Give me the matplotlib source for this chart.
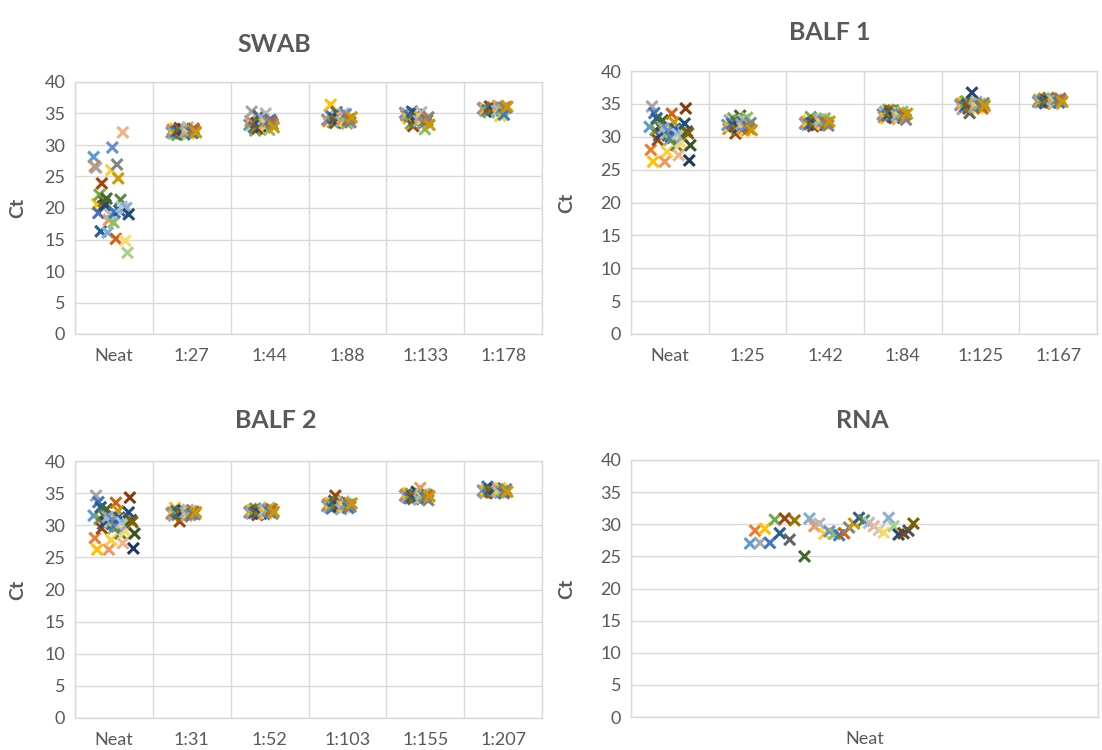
import numpy as np
import matplotlib
matplotlib.use("Agg")
import matplotlib.pyplot as plt

plt.rcParams['font.family'] = ['Lato', 'DejaVu Sans']

# office-style series colours, one per sample (cycled by sample index)
palette = ['#5B9BD5', '#ED7D31', '#A5A5A5', '#FFC000', '#4472C4', '#70AD47',
           '#255E91', '#9E480E', '#636363', '#997300', '#264478', '#43682B',
           '#7CAFDD', '#F1975A', '#B7B7B7', '#FFCD33', '#698ED0', '#8CC168',
           '#327DC2', '#D26012', '#848484', '#CC9A00', '#335AA1', '#5A8A39',
           '#9DC3E6', '#F4B183', '#C9C9C9', '#FFD966', '#8FAADC', '#A9D18E',
           '#1F4E79', '#843C0C', '#525252', '#7F6000', '#203864', '#375623']

# ---- SWAB ----
swab_labels = ['Neat', '1:27', '1:44', '1:88', '1:133', '1:178']
swab_neat = [28.1, 26.6, 26.4, 20.6, 19.2, 22.1, 16.3, 23.9, 20.3, 21.0, 20.5,
             21.5, 16.1, 18.1, 19.0, 26.0, 29.6, 17.7, 19.3, 15.1, 26.9, 24.7,
             19.6, 21.3, 20.2, 32.0, 19.8, 14.8, 20.0, 12.9, 19.0]
swab_1_27 = [32.0, 32.4, 31.8, 32.6, 32.1, 31.6, 32.3, 32.7, 31.9, 32.2, 32.5,
             31.7, 32.0, 32.4, 32.8, 31.8, 32.1, 32.3, 31.9, 32.6, 32.2, 32.0]
swab_1_44 = [33.2, 33.8, 35.3, 33.0, 32.8, 32.3, 33.5, 32.6, 34.6, 33.1, 32.9,
             33.6, 34.1, 33.4, 35.0, 33.2, 33.8, 32.4, 34.0, 33.7, 33.3, 32.8]
swab_1_88 = [34.0, 33.8, 34.8, 36.4, 34.5, 33.6, 34.2, 33.5, 35.2, 33.9, 34.1,
             34.6, 33.7, 34.3, 35.0, 33.8, 34.9, 33.4, 34.0, 34.1, 33.6, 34.4]
swab_1_133 = [35.1, 34.7, 35.0, 34.2, 34.6, 33.4, 35.3, 33.0, 34.0, 33.6, 34.8,
              34.3, 33.8, 34.5, 35.2, 34.1, 33.5, 32.5, 33.9, 33.9, 34.4, 33.2]
swab_1_178 = [35.8, 35.9, 35.4, 35.7, 35.5, 35.2, 36.1, 36.0, 35.6, 35.9, 35.3,
              35.7, 35.4, 36.2, 35.6, 34.6, 35.8, 35.5, 34.8, 36.0, 35.9, 36.1]

# ---- BALF (same neat sample for both runs) ----
balf_neat = [31.5, 28.0, 34.6, 26.2, 33.6, 31.0, 32.8, 29.5, 30.2, 31.5, 30.5,
             32.5, 31.3, 26.2, 30.5, 27.7, 30.9, 29.5, 30.0, 33.5, 29.8, 32.2,
             31.2, 28.7, 30.4, 27.2, 29.2, 29.0, 30.0, 30.8, 32.0, 34.3, 30.8,
             30.5, 26.4, 28.7]

balf1_labels = ['Neat', '1:25', '1:42', '1:84', '1:125', '1:167']
balf1_1_25 = [31.8, 31.2, 32.5, 31.5, 32.0, 32.8, 31.6, 30.5, 32.2, 31.0, 31.4,
              33.2, 31.9, 31.3, 32.6, 30.9, 31.7, 32.9, 31.5, 31.2, 32.1, 31.0]
balf1_1_42 = [32.0, 32.2, 31.8, 32.4, 31.9, 33.0, 32.1, 31.6, 32.3, 32.5, 31.8,
              32.0, 32.6, 32.2, 32.7, 31.9, 32.4, 32.8, 32.0, 32.1, 31.7, 32.3]
balf1_1_84 = [33.4, 33.0, 33.8, 32.8, 33.2, 34.1, 33.6, 33.9, 33.1, 34.0, 32.9,
              33.5, 33.2, 32.7, 33.7, 33.0, 33.4, 33.8, 33.1, 33.3, 32.6, 33.5]
balf1_1_125 = [34.8, 35.0, 34.2, 35.2, 34.6, 35.4, 34.9, 34.3, 33.6, 34.7, 36.7,
               35.1, 34.5, 34.9, 35.3, 34.4, 34.8, 35.0, 34.6, 34.3, 35.1, 34.7]
balf1_1_167 = [35.3, 35.6, 35.2, 35.5, 35.4, 35.8, 35.1, 35.6, 35.3, 35.9, 35.4,
               35.2, 35.7, 35.0, 35.5, 35.3, 35.6, 35.4, 35.2, 35.8, 35.5, 35.3]

balf2_labels = ['Neat', '1:31', '1:52', '1:103', '1:155', '1:207']
balf2_1_31 = [31.8, 32.0, 31.5, 32.7, 32.2, 31.6, 31.9, 30.6, 32.1, 31.4, 32.3,
              31.7, 32.0, 31.5, 32.4, 31.9, 31.6, 32.2, 31.8, 32.1, 31.7, 32.0]
balf2_1_52 = [32.0, 32.2, 31.8, 32.4, 31.9, 32.6, 32.1, 31.6, 32.3, 32.5, 31.8,
              32.0, 32.2, 31.7, 32.4, 31.9, 32.3, 32.7, 32.0, 32.5, 31.8, 32.1]
balf2_1_103 = [33.0, 33.3, 32.8, 33.5, 32.6, 33.2, 33.8, 34.6, 33.1, 33.6, 32.9,
               33.4, 32.5, 33.0, 33.7, 32.8, 33.3, 33.1, 32.7, 33.2, 32.9, 33.4]
balf2_1_155 = [34.6, 34.8, 34.3, 35.0, 34.2, 34.9, 34.5, 34.1, 34.7, 34.4, 35.2,
               34.6, 34.0, 35.8, 34.8, 34.3, 34.5, 34.9, 34.2, 34.7, 33.9, 34.5]
balf2_1_207 = [35.4, 35.2, 35.0, 35.5, 36.0, 35.3, 35.6, 35.1, 35.4, 35.2, 35.7,
               35.0, 35.3, 35.5, 35.1, 35.8, 35.2, 35.4, 35.0, 35.3, 35.6, 35.2]

# ---- RNA (neat only, sample 11 missing) ----
rna_labels = ['Neat']
rna_neat = [27.0, 29.0, 27.1, 29.3, 27.1, 30.7, 28.6, 30.9, 27.6, 30.6, np.nan,
            25.0, 30.9, 29.7, 30.1, 28.5, 28.9, 28.5, 28.3, 28.6, 29.5, 30.1,
            31.0, 30.6, 30.2, 29.7, 29.1, 28.7, 31.0, 29.7, 28.4, 28.6, 29.0,
            30.1]

GRID = '#D9D9D9'
TEXT = '#595959'
W, H = 1102, 750

fig = plt.figure(figsize=(11.02, 7.5), dpi=100)


def add_axes(left, top, right, bottom):
    return fig.add_axes([left / W, 1 - bottom / H, (right - left) / W,
                         (bottom - top) / H])


def style_axes(ax, ncat, labels, title, label_x, title_xy):
    ax.set_xlim(0, ncat)
    ax.set_ylim(0, 40)
    ax.set_yticks(np.arange(0, 41, 5))
    ax.set_xticks(np.arange(0, ncat + 1))
    ax.set_xticklabels([])
    ax.set_xticks(np.arange(ncat) + 0.5, minor=True)
    ax.set_xticklabels(labels, minor=True)
    ax.grid(True, which='major', color=GRID, lw=1)
    ax.set_axisbelow(True)
    ax.tick_params(which='both', length=0, colors=TEXT, labelsize=13)
    ax.tick_params(axis='x', which='minor', pad=10)
    ax.tick_params(axis='y', pad=7)
    for s in ax.spines.values():
        s.set_color(GRID)
        s.set_linewidth(1)
    ax.set_ylabel('Ct', fontsize=14, fontweight='bold', color=TEXT)
    # "Ct" sits at a fixed pixel column
    bb = ax.get_position()
    ax.yaxis.set_label_coords((label_x / W - bb.x0) / bb.width, 0.5)
    # chart titles are centred on the whole chart box, not the plot area
    fig.text(title_xy[0] / W, 1 - title_xy[1] / H, title, fontsize=18,
             fontweight='bold', color=TEXT, ha='center', va='center')


def plot_cat(ax, cat, values, x0=0.24, dx=0.015):
    n = len(values)
    x = cat + x0 + dx * np.arange(n)
    ax.scatter(x, values, c=palette[:n], marker='x', s=62, linewidths=2.2,
               zorder=3)


ax1 = add_axes(75, 82, 542, 334)
ax2 = add_axes(631, 71, 1097, 334)
ax3 = add_axes(75, 461, 542, 718)
ax4 = add_axes(631, 460, 1098, 717)

style_axes(ax1, 6, swab_labels, 'SWAB', 26, (274, 45))
for i, vals in enumerate([swab_neat, swab_1_27, swab_1_44, swab_1_88,
                          swab_1_133, swab_1_178]):
    plot_cat(ax1, i, vals)

style_axes(ax2, 6, balf1_labels, 'BALF 1', 575, (830, 32))
for i, vals in enumerate([balf_neat, balf1_1_25, balf1_1_42, balf1_1_84,
                          balf1_1_125, balf1_1_167]):
    plot_cat(ax2, i, vals)

style_axes(ax3, 6, balf2_labels, 'BALF 2', 26, (276, 421))
for i, vals in enumerate([balf_neat, balf2_1_31, balf2_1_52, balf2_1_103,
                          balf2_1_155, balf2_1_207]):
    plot_cat(ax3, i, vals)

style_axes(ax4, 1, rna_labels, 'RNA', 575, (862, 421))
plot_cat(ax4, 0, rna_neat, x0=0.255, dx=0.0106)

fig.savefig('out.png', dpi=100, facecolor='white')
